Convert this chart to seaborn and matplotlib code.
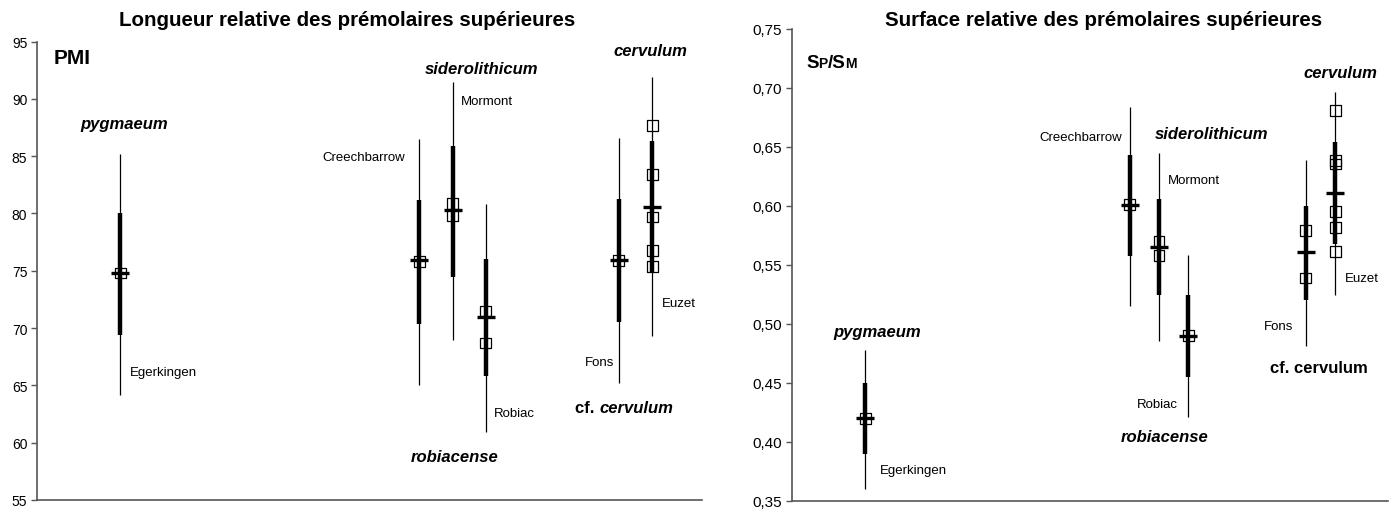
import matplotlib
matplotlib.use("Agg")
import matplotlib.pyplot as plt
import seaborn as sns
import pandas as pd

# ---------------- data ----------------
sites = ["Egerkingen", "Creechbarrow", "Mormont", "Robiac", "Fons", "Euzet"]

pmi_mean = [74.8, 75.9, 80.3, 71.0, 75.9, 80.6]
pmi_min = [64.2, 65.0, 69.0, 60.9, 65.2, 69.3]
pmi_max = [85.2, 86.5, 91.5, 80.8, 86.6, 91.9]
pmi_low = [69.4, 70.4, 74.5, 65.8, 70.5, 74.9]
pmi_high = [80.0, 81.2, 85.9, 76.0, 81.3, 86.3]
pmi_pts_egerkingen = [74.8]
pmi_pts_creechbarrow = [75.8]
pmi_pts_mormont = [80.9, 79.8]
pmi_pts_robiac = [71.5, 68.7]
pmi_pts_fons = [75.9]
pmi_pts_euzet = [87.7, 83.4, 79.7, 76.8, 75.4]

sps_mean = [0.420, 0.601, 0.5655, 0.490, 0.5607, 0.6108]
sps_min = [0.360, 0.5155, 0.4859, 0.421, 0.4816, 0.5246]
sps_max = [0.478, 0.6842, 0.6446, 0.5588, 0.639, 0.6963]
sps_low = [0.390, 0.5574, 0.5246, 0.455, 0.5206, 0.5678]
sps_high = [0.450, 0.6432, 0.6059, 0.5248, 0.6003, 0.654]
sps_pts_egerkingen = [0.420]
sps_pts_creechbarrow = [0.601]
sps_pts_mormont = [0.5698, 0.5579]
sps_pts_robiac = [0.4900]
sps_pts_fons = [0.579, 0.539]
sps_pts_euzet = [0.6808, 0.6384, 0.6356, 0.5955, 0.5819, 0.5613]

left_ticks = [55, 60, 65, 70, 75, 80, 85, 90, 95]
right_ticks = [0.35, 0.40, 0.45, 0.50, 0.55, 0.60, 0.65, 0.70, 0.75]
right_ticklabels = ["0,35", "0,40", "0,45", "0,50", "0,55", "0,60", "0,65", "0,70", "0,75"]

title_left = "Longueur relative des prémolaires supérieures"
title_right = "Surface relative des prémolaires supérieures"

# ---------------- layout ----------------
XPOS = [2.5, 11.5, 12.5, 13.5, 17.5, 18.5]
W, H = 1395, 510

sns.set_theme(style="white")
plt.rcParams["font.family"] = ["Liberation Sans", "DejaVu Sans"]
plt.rcParams["text.color"] = "black"
plt.rcParams["ytick.color"] = "black"

fig = plt.figure(figsize=(W / 100, H / 100), dpi=100)
fig.patch.set_facecolor("white")


def frac(x0, y0, x1, y1):
    return [x0 / W, 1 - y1 / H, (x1 - x0) / W, (y1 - y0) / H]


axL = fig.add_axes(frac(37, 42.6, 702, 501))
axR = fig.add_axes(frac(792, 30, 1388, 502))


def draw(ax, mean, vmin, vmax, low, high, pts_lists, ylim, xmax):
    rows = []
    for s, x, pts in zip(sites, XPOS, pts_lists):
        for v in pts:
            rows.append({"site": s, "x": x, "v": v})
    df = pd.DataFrame(rows)
    ax.vlines(XPOS, vmin, vmax, color="black", lw=0.9, zorder=2)
    ax.vlines(XPOS, low, high, color="black", lw=3.2, zorder=2)
    sns.scatterplot(data=df, x="x", y="v", ax=ax, marker="s", s=60,
                    facecolor="none", edgecolor="black", linewidth=0.9,
                    zorder=3, legend=False)
    mdf = pd.DataFrame({"x": XPOS, "v": mean})
    ax.plot(mdf["x"], mdf["v"], ls="none", marker="_", ms=12.5, mew=2.4,
            color="black", zorder=4)
    ax.set_xlim(0, xmax)
    ax.set_ylim(*ylim)
    ax.set_xlabel("")
    ax.set_ylabel("")
    ax.set_xticks([])
    for sp in ["top", "right"]:
        ax.spines[sp].set_visible(False)
    for sp in ["left", "bottom"]:
        ax.spines[sp].set_color("#555555")
        ax.spines[sp].set_linewidth(1.2)
    ax.tick_params(axis="y", direction="out", length=4, width=1,
                   color="#555555", labelcolor="black", left=True, pad=3)
    ax.set_facecolor("white")


draw(axL, pmi_mean, pmi_min, pmi_max, pmi_low, pmi_high,
     [pmi_pts_egerkingen, pmi_pts_creechbarrow, pmi_pts_mormont,
      pmi_pts_robiac, pmi_pts_fons, pmi_pts_euzet], (55, 95), 20)
axL.set_yticks(left_ticks)
axL.set_yticklabels([str(t) for t in left_ticks], fontsize=10)

draw(axR, sps_mean, sps_min, sps_max, sps_low, sps_high,
     [sps_pts_egerkingen, sps_pts_creechbarrow, sps_pts_mormont,
      sps_pts_robiac, sps_pts_fons, sps_pts_euzet], (0.35, 0.75), 20.3)
axR.set_yticks(right_ticks)
axR.set_yticklabels(right_ticklabels, fontsize=11)


def T(x, y, s, ha="left", size=9.5, weight="normal", style="normal", va="center"):
    return fig.text(x / W, 1 - y / H, s, ha=ha, va=va, fontsize=size,
                    fontweight=weight, fontstyle=style, color="black")


def taxon(x, y, s):
    T(x, y, s, ha="center", size=12, weight="bold", style="italic")


renderer = fig.canvas.get_renderer()


def chain(x, y, parts, center=False):
    """Draw consecutive text pieces on a common baseline starting at pixel x."""
    widths = []
    for s, size, style in parts:
        t = fig.text(0, 0, s, fontsize=size, fontweight="bold", fontstyle=style)
        bb = t.get_window_extent(renderer)
        widths.append(bb.width)
        t.remove()
    total = sum(widths)
    cx = x - total / 2 if center else x
    for (s, size, style), w in zip(parts, widths):
        T(cx, y, s, size=size, weight="bold", style=style, va="baseline")
        cx += w


# titles
T(347, 20, title_left, ha="center", size=14.8, weight="bold")
T(1104, 20, title_right, ha="center", size=14.8, weight="bold")

# left panel labels
T(54, 59, "PMI", size=15, weight="bold")
taxon(124, 124, "pygmaeum")
T(130, 373, sites[0])
T(405, 158, sites[1], ha="right")
taxon(482, 69, "siderolithicum")
T(461, 102, sites[2])
T(494, 414, sites[3])
taxon(455, 458, "robiacense")
taxon(650, 51, "cervulum")
T(662, 304, sites[5])
T(614, 363, sites[4], ha="right")
chain(624, 413, [("cf. ", 12, "normal"), ("cervulum", 12, "italic")], center=True)

# right panel labels
chain(806, 68, [("S", 13.5, "normal"), ("P", 10, "normal"),
                ("/S", 13.5, "normal"), ("M", 10, "normal")])

taxon(877, 332, "pygmaeum")
T(880, 471, sites[0])
T(1122, 138, sites[1], ha="right")
taxon(1212, 135, "siderolithicum")
T(1168, 181, sites[2])
T(1178, 405, sites[3], ha="right")
taxon(1165, 438, "robiacense")
taxon(1340, 74, "cervulum")
T(1345, 279, sites[5])
T(1293, 327, sites[4], ha="right")
T(1319, 369, "cf. cervulum", ha="center", size=12, weight="bold")

fig.savefig("out.png", dpi=100, facecolor="white")
